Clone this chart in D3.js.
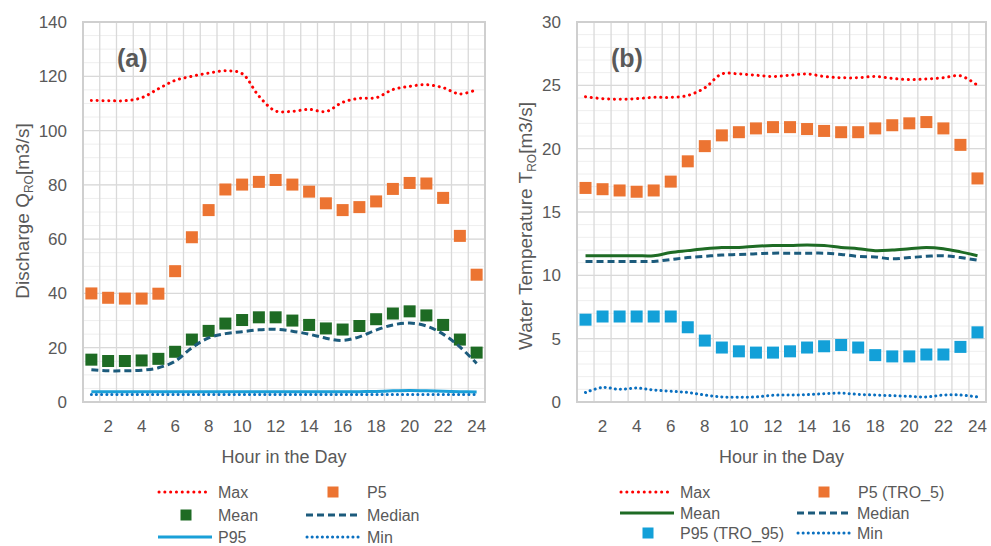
<!DOCTYPE html>
<html>
<head>
<meta charset="utf-8">
<script src="https://cdn.jsdelivr.net/npm/d3@7"></script>
<style>
  body { margin: 0; background: #fff; }
  svg { display: block; font-family: "Liberation Sans", Arial, sans-serif; }
</style>
</head>
<body>
<svg id="chart" width="991" height="546"></svg>
<script>
const hours = [1, 2, 3, 4, 5, 6, 7, 8, 9, 10, 11, 12, 13, 14, 15, 16, 17, 18, 19, 20, 21, 22, 23, 24];
const hourTicks = [2, 4, 6, 8, 10, 12, 14, 16, 18, 20, 22, 24];

// (a) discharge
const qMax = [111.1, 111, 111, 112.1, 115.4, 118.5, 120, 121.2, 122, 121, 112.7, 107.2, 107.1, 107.8, 107, 110.4, 111.9, 112.1, 115.1, 116.3, 116.9, 115.8, 113.5, 115.1];
const qP5 = [40, 38.4, 38.1, 38.1, 39.9, 48.2, 60.7, 70.7, 78.3, 80.1, 81.1, 81.8, 80.1, 77.5, 73.2, 70.7, 71.8, 73.9, 78.5, 80.7, 80.5, 75.2, 61.2, 46.9];
const qMean = [15.6, 15.1, 15.1, 15.3, 15.9, 18.5, 23, 26.2, 28.9, 30.2, 31.2, 31.2, 30, 28.4, 27.1, 26.7, 28, 30.5, 32.6, 33.4, 31.9, 28.4, 23, 18.2];
const qMedian = [11.9, 11.5, 11.5, 11.7, 12.6, 15, 20, 23.6, 25.2, 25.9, 26.6, 26.8, 26.1, 25, 23.5, 22.7, 24, 26.5, 28.4, 29.1, 28, 25, 20.3, 14.2];
const qP95 = [3.8, 3.8, 3.8, 3.8, 3.8, 3.8, 3.8, 3.8, 3.8, 3.8, 3.8, 3.8, 3.8, 3.8, 3.8, 3.8, 3.8, 3.9, 4.1, 4.2, 4.1, 4, 3.8, 3.7];
const qMin = [2.8, 2.8, 2.8, 2.8, 2.8, 2.8, 2.8, 2.8, 2.8, 2.8, 2.8, 2.8, 2.8, 2.8, 2.8, 2.8, 2.8, 2.8, 2.8, 2.8, 2.8, 2.8, 2.8, 2.8];
const qTicks = [0, 20, 40, 60, 80, 100, 120, 140];

// (b) water temperature
const tMax = [24.1, 23.95, 23.9, 23.95, 24.05, 24.05, 24.2, 24.8, 25.9, 25.9, 25.8, 25.7, 25.8, 25.9, 25.7, 25.6, 25.6, 25.7, 25.55, 25.45, 25.5, 25.6, 25.75, 25];
const tP5 = [16.9, 16.8, 16.7, 16.6, 16.7, 17.4, 19, 20.2, 21.05, 21.3, 21.6, 21.7, 21.7, 21.55, 21.4, 21.3, 21.3, 21.6, 21.85, 22, 22.1, 21.6, 20.3, 17.65];
const tMean = [11.55, 11.55, 11.55, 11.55, 11.55, 11.8, 11.95, 12.1, 12.2, 12.2, 12.3, 12.35, 12.35, 12.4, 12.35, 12.2, 12.1, 11.95, 12, 12.1, 12.2, 12.1, 11.85, 11.55];
const tMedian = [11.1, 11.1, 11.1, 11.1, 11.1, 11.25, 11.4, 11.5, 11.6, 11.65, 11.7, 11.75, 11.75, 11.75, 11.75, 11.65, 11.5, 11.45, 11.3, 11.4, 11.5, 11.55, 11.4, 11.2];
const tP95 = [6.5, 6.75, 6.75, 6.75, 6.75, 6.75, 5.9, 4.85, 4.3, 4, 3.9, 3.9, 4, 4.3, 4.4, 4.5, 4.3, 3.7, 3.6, 3.6, 3.75, 3.75, 4.35, 5.5];
const tMin = [0.75, 1.15, 1, 1.1, 0.95, 0.85, 0.75, 0.55, 0.4, 0.37, 0.4, 0.53, 0.55, 0.58, 0.65, 0.7, 0.6, 0.55, 0.5, 0.45, 0.4, 0.55, 0.55, 0.4];
const tTicks = [0, 5, 10, 15, 20, 25, 30];

const textColor = "#595959";
const styles = {
  max:    { color: "#ff0000", width: 3, dash: "0.1 5.7", cap: "round" },
  median: { color: "#1c5b7c", width: 3, dash: "7 4", cap: "butt" },
  min:    { color: "#0a70c0", width: 3, dash: "0.1 5", cap: "round" },
  meanLine: { color: "#1e6b24", width: 3, dash: null, cap: "butt" },
  p95Line:  { color: "#1aa0d8", width: 3, dash: null, cap: "butt" }
};
const orange = "#ec7432", green = "#1e6b24", lightBlue = "#13a0d8";

const svg = d3.select("#chart");

function drawPanel(cfg) {
  const g = svg.append("g");
  const x = d3.scaleBand().domain(hours).range([cfg.left, cfg.right]).padding(0);
  const y = d3.scaleLinear().domain([0, cfg.yMax]).range([402, 22]);
  const xc = h => x(h) + x.bandwidth() / 2;

  // minor horizontal grid
  g.append("g").selectAll("line")
    .data(d3.range(0, cfg.yMax + 0.001, cfg.minor))
    .join("line")
    .attr("x1", cfg.left).attr("x2", cfg.right)
    .attr("y1", d => y(d)).attr("y2", d => y(d))
    .attr("stroke", "#eeeeee").attr("stroke-width", 1);

  // vertical grid at category boundaries
  g.append("g").selectAll("line")
    .data(hours)
    .join("line")
    .attr("x1", d => x(d)).attr("x2", d => x(d))
    .attr("y1", y(cfg.yMax)).attr("y2", y(0))
    .attr("stroke", "#d9d9d9").attr("stroke-width", 1.3);

  // major horizontal grid
  g.append("g").selectAll("line")
    .data(cfg.ticks)
    .join("line")
    .attr("x1", cfg.left).attr("x2", cfg.right)
    .attr("y1", d => y(d)).attr("y2", d => y(d))
    .attr("stroke", "#d9d9d9").attr("stroke-width", 1.3);

  g.append("rect")
    .attr("x", cfg.left).attr("y", y(cfg.yMax))
    .attr("width", cfg.right - cfg.left).attr("height", y(0) - y(cfg.yMax))
    .attr("fill", "none").attr("stroke", "#cfcfcf").attr("stroke-width", 2);

  // y axis
  const yAxis = g.append("g")
    .attr("transform", `translate(${cfg.left - 16},0)`)
    .call(d3.axisLeft(y).tickValues(cfg.ticks).tickSize(0).tickPadding(0));
  yAxis.select(".domain").remove();
  yAxis.selectAll("text").attr("fill", textColor).attr("font-size", 17)
    .attr("font-family", "Liberation Sans, Arial, sans-serif");

  // x axis
  const xAxis = g.append("g")
    .attr("transform", `translate(0,${y(0) + 18})`)
    .call(d3.axisBottom(x).tickValues(hourTicks).tickSize(0).tickPadding(0));
  xAxis.select(".domain").remove();
  xAxis.selectAll("text").attr("fill", textColor).attr("font-size", 17)
    .attr("font-family", "Liberation Sans, Arial, sans-serif");

  // titles
  g.append("text")
    .attr("x", (cfg.left + cfg.right) / 2).attr("y", 463)
    .attr("text-anchor", "middle").attr("fill", textColor).attr("font-size", 18)
    .text("Hour in the Day");

  const yt = g.append("text")
    .attr("transform", `translate(${cfg.yTitleX},${cfg.yTitleY}) rotate(-90)`)
    .attr("text-anchor", "middle").attr("fill", textColor).attr("font-size", 19);
  yt.append("tspan").text(cfg.yTitle);
  yt.append("tspan").attr("font-size", 12).attr("dy", 4).text("RO");
  yt.append("tspan").attr("dy", -4).text("[m3/s]");

  g.append("text")
    .attr("x", cfg.left + 34).attr("y", 67)
    .attr("fill", textColor).attr("font-size", 25).attr("font-weight", "bold")
    .text(cfg.label);

  const line = d3.line().x((d, i) => xc(hours[i])).y(d => y(d)).curve(d3.curveCatmullRom);

  function drawLine(values, st) {
    g.append("path")
      .attr("d", line(values))
      .attr("fill", "none")
      .attr("stroke", st.color)
      .attr("stroke-width", st.width)
      .attr("stroke-linecap", st.cap)
      .attr("stroke-dasharray", st.dash);
  }
  function drawSquares(values, color) {
    g.append("g").selectAll("rect")
      .data(values)
      .join("rect")
      .attr("x", (d, i) => xc(hours[i]) - 6)
      .attr("y", d => y(d) - 6)
      .attr("width", 12).attr("height", 12)
      .attr("fill", color);
  }
  cfg.draw(drawLine, drawSquares);

  // legend
  const lg = g.append("g").attr("font-size", 16).attr("fill", textColor);
  cfg.legend.forEach(item => {
    if (item.type === "line") {
      const st = item.style;
      lg.append("line")
        .attr("x1", item.x1).attr("x2", item.x2)
        .attr("y1", item.y).attr("y2", item.y)
        .attr("stroke", st.color).attr("stroke-width", st.width)
        .attr("stroke-linecap", st.cap).attr("stroke-dasharray", st.dash);
    } else {
      lg.append("rect")
        .attr("x", item.cx - 5.5).attr("y", item.y - 5.5)
        .attr("width", 11).attr("height", 11)
        .attr("fill", item.color);
    }
    lg.append("text")
      .attr("x", item.tx).attr("y", item.y)
      .attr("dy", "0.36em")
      .attr("fill", textColor)
      .text(item.name);
  });
}

drawPanel({
  left: 83, right: 485, yMax: 140, minor: 5, ticks: qTicks,
  yTitle: "Discharge Q", yTitleX: 29, yTitleY: 211, label: "(a)",
  draw: (drawLine, drawSquares) => {
    drawLine(qMax, styles.max);
    drawSquares(qP5, orange);
    drawSquares(qMean, green);
    drawLine(qMedian, styles.median);
    drawLine(qP95, styles.p95Line);
    drawLine(qMin, styles.min);
  },
  legend: [
    { type: "line", style: styles.max, x1: 159, x2: 211, y: 492, tx: 218, name: "Max" },
    { type: "square", color: orange, cx: 333, y: 492, tx: 367, name: "P5" },
    { type: "square", color: green, cx: 186, y: 515, tx: 218, name: "Mean" },
    { type: "line", style: styles.median, x1: 306, x2: 360, y: 515, tx: 367, name: "Median" },
    { type: "line", style: styles.p95Line, x1: 158, x2: 212, y: 537, tx: 218, name: "P95" },
    { type: "line", style: styles.min, x1: 307, x2: 360, y: 537, tx: 367, name: "Min" }
  ]
});

drawPanel({
  left: 577, right: 986, yMax: 30, minor: 1, ticks: tTicks,
  yTitle: "Water Temperature T", yTitleX: 532, yTitleY: 226, label: "(b)",
  draw: (drawLine, drawSquares) => {
    drawLine(tMax, styles.max);
    drawSquares(tP5, orange);
    drawLine(tMean, styles.meanLine);
    drawLine(tMedian, styles.median);
    drawSquares(tP95, lightBlue);
    drawLine(tMin, styles.min);
  },
  legend: [
    { type: "line", style: styles.max, x1: 621, x2: 673, y: 492, tx: 680, name: "Max" },
    { type: "square", color: orange, cx: 824, y: 492, tx: 858, name: "P5 (TRO_5)" },
    { type: "line", style: styles.meanLine, x1: 620, x2: 674, y: 513, tx: 680, name: "Mean" },
    { type: "line", style: styles.median, x1: 797, x2: 850, y: 513, tx: 857, name: "Median" },
    { type: "square", color: lightBlue, cx: 648, y: 533, tx: 680, name: "P95 (TRO_95)" },
    { type: "line", style: styles.min, x1: 798, x2: 850, y: 533, tx: 857, name: "Min" }
  ]
});
</script>
</body>
</html>
